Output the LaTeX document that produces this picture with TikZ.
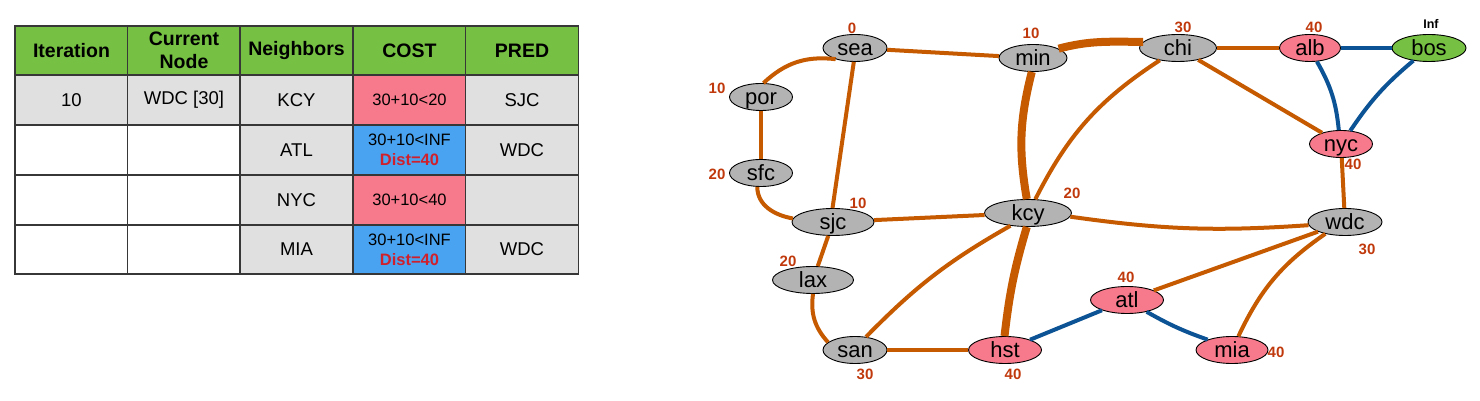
\documentclass[tikz,border=0pt]{standalone}
\usepackage{fontspec}
\setmainfont{Liberation Sans}
\usetikzlibrary{shapes.geometric}

\definecolor{hdrgreen}{RGB}{118,192,67}
\definecolor{cellgray}{RGB}{224,224,224}
\definecolor{gridgray}{RGB}{55,55,55}
\definecolor{costpink}{RGB}{246,122,139}
\definecolor{costblue}{RGB}{73,163,240}
\definecolor{distred}{RGB}{208,32,44}
\definecolor{nodegray}{RGB}{179,179,179}
\definecolor{edgeorange}{RGB}{197,90,0}
\definecolor{edgeblue}{RGB}{11,83,148}
\definecolor{labred}{RGB}{192,57,12}

\begin{document}
\begin{tikzpicture}[x=1pt,y=1pt,
  cell/.style={draw=gridgray,line width=1.8pt,fill=cellgray,minimum width=113pt,minimum height=50pt,
    inner sep=0pt,outer sep=0pt,align=center,font=\fontsize{18.5}{22}\selectfont},
  head/.style={cell,fill=hdrgreen,minimum height=49pt,font=\fontsize{19.5}{23}\selectfont\bfseries},
  blank/.style={cell,fill=white},
  cost/.style={cell,font=\fontsize{16.5}{20}\selectfont},
  city/.style={ellipse,draw=black,line width=0.9pt,fill=nodegray,minimum height=27pt,inner sep=0pt,
    text height=16pt,text depth=0pt,font=\fontsize{22}{22}\selectfont},
  hit/.style={city,fill=costpink},
  dist/.style={text=labred,inner sep=0pt,font=\fontsize{15}{15}\selectfont\bfseries},
  road/.style={draw=edgeorange,line width=4pt},
  fast/.style={road,line width=8pt},
  relax/.style={draw=edgeblue,line width=4pt}]
\useasboundingbox (0,0) rectangle (1480,401);

% table
\node[head] (h1) at (71.5,350.5) {Iteration};
\node[head] (h2) at (184,350.5) {Current\\Node};
\node[head] (h3) at (296.5,350.5) {Neighbors};
\node[head] (h4) at (409.5,350.5) {COST};
\node[head] (h5) at (522,350.5) {PRED};

\node[cell] (r1a) at (71.5,301) {10};
\node[cell] (r1b) at (184,301) {WDC [30]};
\node[cell] (r1c) at (296.5,301) {KCY};
\node[cost,fill=costpink] (r1d) at (409.5,301) {30+10<20};
\node[cell] (r1e) at (522,301) {SJC};

\node[blank] (r2a) at (71.5,251) {};
\node[blank] (r2b) at (184,251) {};
\node[cell] (r2c) at (296.5,251) {ATL};
\node[cost,fill=costblue] (r2d) at (409.5,251) {30+10<INF\\\textcolor{distred}{\bfseries Dist=40}};
\node[cell] (r2e) at (522,251) {WDC};

\node[blank] (r3a) at (71.5,201) {};
\node[blank] (r3b) at (184,201) {};
\node[cell] (r3c) at (296.5,201) {NYC};
\node[cost,fill=costpink] (r3d) at (409.5,201) {30+10<40};
\node[cell] (r3e) at (522,201) {};

\node[blank,minimum height=49pt] (r4a) at (71.5,151.5) {};
\node[blank,minimum height=49pt] (r4b) at (184,151.5) {};
\node[cell,minimum height=49pt] (r4c) at (296.5,151.5) {MIA};
\node[cost,fill=costblue,minimum height=49pt] (r4d) at (409.5,151.5) {30+10<INF\\\textcolor{distred}{\bfseries Dist=40}};
\node[cell,minimum height=49pt] (r4e) at (522,151.5) {WDC};

% graph
\node[city,minimum width=64pt] (sea) at (855,353) {sea};
\node[city,minimum width=68pt] (min) at (1033,343) {min};
\node[city,minimum width=63pt] (por) at (761,304) {por};
\node[city,minimum width=63pt] (sfc) at (761,228) {sfc};
\node[city,minimum width=77pt] (chi) at (1178,353) {chi};
\node[hit,minimum width=61pt] (alb) at (1310,353) {alb};
\node[city,fill=hdrgreen,minimum width=74pt] (bos) at (1429,353) {bos};
\node[hit,minimum width=63pt] (nyc) at (1341,257) {nyc};
\node[city,minimum width=82pt] (sjc) at (833,179) {sjc};
\node[city,minimum width=87pt] (kcy) at (1028,188) {kcy};
\node[city,minimum width=81pt] (lax) at (813,121) {lax};
\node[city,minimum width=64pt] (san) at (855,51) {san};
\node[hit,minimum width=73pt] (hst) at (1005,51) {hst};
\node[city,minimum width=74pt] (wdc) at (1345,179) {wdc};
\node[hit,minimum width=73pt] (atl) at (1127,101) {atl};
\node[hit,minimum width=72pt] (mia) at (1232,51) {mia};

\draw[road] (sea) -- (min);
\draw[road] (sea.210) to[bend right=25] (por.80);
\draw[road] (sea.265) -- (sjc.92);
\draw[road] (por) -- (sfc);
\draw[road] (sfc.255) to[out=-90,in=170] (sjc.175);
\draw[fast] (min.265) to[bend right=12] (kcy.95);
\draw[fast] (min.20) to[out=15,in=180] (chi.170);
\draw[road] (chi) -- (alb);
\draw[road] (chi.214) to[bend right=15] (kcy.62);
\draw[road] (chi) -- (nyc);
\draw[relax] (alb) -- (bos);
\draw[relax] (alb.297) to[bend left=12] (nyc.99);
\draw[relax] (bos.219) to[bend right=8] (nyc.55);
\draw[road] (nyc) -- (wdc);
\draw[road] (sjc) -- (kcy);
\draw[road] (sjc) -- (lax);
\draw[road] (lax.south) to[bend right=25] (san.164);
\draw[road] (san.50) to[bend left=8] (kcy.216);
\draw[road] (san) -- (hst);
\draw[fast] (kcy.265) to[bend right=5] (hst.92);
\draw[road] (kcy.355) to[bend right=6] (wdc.185);
\draw[road] (wdc) -- (atl);
\draw[road] (wdc.211) to[bend right=15] (mia.65);
\draw[relax] (atl) -- (hst);
\draw[relax] (atl.329) to[bend right=5] (mia.157);

% costs
\node[dist] (sea-c) at (852,373) {0};
\node[dist] (min-c) at (1031,368) {10};
\node[dist] (por-c) at (717,313) {10};
\node[dist] (sfc-c) at (717,227) {20};
\node[dist] (sjc-c) at (858,198) {10};
\node[dist] (kcy-c) at (1072,208) {20};
\node[dist] (chi-c) at (1183,374) {30};
\node[dist] (alb-c) at (1314,374) {40};
\node[inner sep=0pt,font=\fontsize{12.5}{12.5}\selectfont\bfseries] (bos-c) at (1431,377) {Inf};
\node[dist] (nyc-c) at (1353,237) {40};
\node[dist] (wdc-c) at (1367,152) {30};
\node[dist] (atl-c) at (1126,124) {40};
\node[dist] (mia-c) at (1276,49) {40};
\node[dist] (hst-c) at (1013,27) {40};
\node[dist] (san-c) at (865,27) {30};
\node[dist] (lax-c) at (788,140) {20};
\end{tikzpicture}
\end{document}
